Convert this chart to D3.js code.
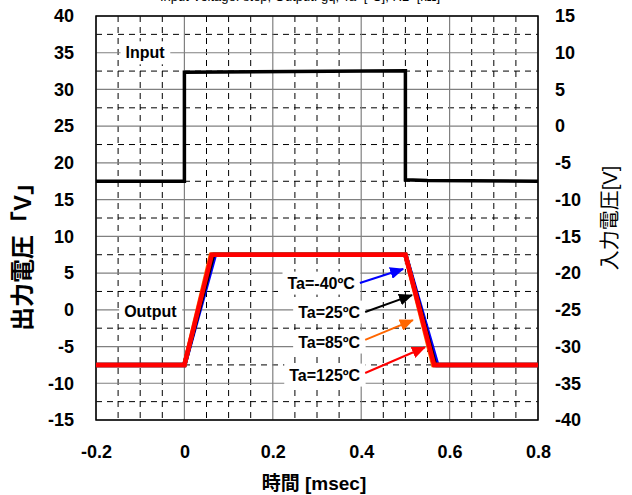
<!DOCTYPE html>
<html>
<head>
<meta charset="utf-8">
<script src="https://cdn.jsdelivr.net/npm/d3@7"></script>
<style>
  body { margin: 0; background: #fff; }
  svg { display: block; font-family: "Liberation Sans", Arial, "Noto Sans CJK JP", sans-serif; }
</style>
</head>
<body>
<svg id="chart" width="632" height="495"></svg>
<script>
"use strict";

// axis ticks
const timeTicks = [-0.2, 0, 0.2, 0.4, 0.6, 0.8];
const outTicks = [-15, -10, -5, 0, 5, 10, 15, 20, 25, 30, 35, 40];
const inTicks = [-40, -35, -30, -25, -20, -15, -10, -5, 0, 5, 10, 15];

// input step (right axis)
const inputTime = [-0.2, 0, 0, 0.5, 0.5, 0.55, 0.8];
const inputVolt = [-7.5, -7.5, 7.35, 7.55, -7.3, -7.4, -7.5];

// output for each temperature (left axis)
const tempLabels = ["Ta=-40ºC", "Ta=25ºC", "Ta=85ºC", "Ta=125ºC"];
const tempColors = ["#0000ff", "#000000", "#ff6600", "#ff0000"];
const outTime = [
  [-0.2, 0, 0.069, 0.5, 0.572, 0.8],
  [-0.2, 0, 0.065, 0.5, 0.567, 0.8],
  [-0.2, 0, 0.060, 0.5, 0.563, 0.8],
  [-0.2, 0, 0.062, 0.5, 0.565, 0.8]
];
const outVolt = [-7.5, -7.5, 7.5, 7.5, -7.5, -7.5];

// arrow tail / tip in data units (time, output V)
const arrowTail = [[0.397, 3.65], [0.409, -0.3], [0.409, -4.1], [0.409, -8.6]];
const arrowTip = [[0.495, 5.55], [0.515, 2.0], [0.517, -1.4], [0.544, -5.1]];

const svg = d3.select("#chart");
const m = { left: 96, right: 538, top: 16, bottom: 420 };

const x = d3.scaleLinear().domain([-0.2, 0.8]).range([m.left, m.right]);
const yL = d3.scaleLinear().domain([-15, 40]).range([m.bottom, m.top]);
const yR = d3.scaleLinear().domain([-40, 15]).range([m.bottom, m.top]);

// title, mostly above the top edge (as in the source image)
svg.append("text")
  .attr("x", 300).attr("y", 1)
  .attr("text-anchor", "middle")
  .style("font-size", "13px")
  .text("Input Voltage: step, Output: gq, Ta=[ºC], RL=[kΩ]");

let grid = svg.append("g");

// minor grid (dashed)
let minorX = d3.range(-0.2, 0.8, 0.05).filter((v) => Math.abs(Math.round(v * 5) - v * 5) > 0.01);
grid.selectAll(".vminor").data(minorX)
  .enter().append("line")
  .attr("x1", (d) => x(d)).attr("x2", (d) => x(d))
  .attr("y1", m.top).attr("y2", m.bottom)
  .attr("stroke", "#000").attr("stroke-width", 1)
  .attr("stroke-dasharray", "6,5");

let minorY = outTicks.slice(0, -1).map((v) => v + 2.5);
grid.selectAll(".hminor").data(minorY)
  .enter().append("line")
  .attr("x1", m.left).attr("x2", m.right)
  .attr("y1", (d) => yL(d)).attr("y2", (d) => yL(d))
  .attr("stroke", "#000").attr("stroke-width", 1)
  .attr("stroke-dasharray", "6,5");

// major grid (solid grey)
grid.selectAll(".vmajor").data(timeTicks)
  .enter().append("line")
  .attr("x1", (d) => x(d)).attr("x2", (d) => x(d))
  .attr("y1", m.top).attr("y2", m.bottom)
  .attr("stroke", "#808080").attr("stroke-width", 1.2);

grid.selectAll(".hmajor").data(outTicks)
  .enter().append("line")
  .attr("x1", m.left).attr("x2", m.right)
  .attr("y1", (d) => yL(d)).attr("y2", (d) => yL(d))
  .attr("stroke", "#808080").attr("stroke-width", 1.2);

// plot frame
svg.append("rect")
  .attr("x", m.left).attr("y", m.top)
  .attr("width", m.right - m.left).attr("height", m.bottom - m.top)
  .attr("fill", "none").attr("stroke", "#000").attr("stroke-width", 1.5);

// axes (plain hyphen for minus, like the original)
let fmt = (d) => String(+(+d).toFixed(1));
let axL = svg.append("g").attr("transform", `translate(${m.left - 22},0)`)
  .call(d3.axisLeft(yL).tickValues(outTicks).tickSize(0).tickPadding(0).tickFormat(fmt));
let axR = svg.append("g").attr("transform", `translate(${m.right + 17},0)`)
  .call(d3.axisRight(yR).tickValues(inTicks).tickSize(0).tickPadding(0).tickFormat(fmt));
let axB = svg.append("g").attr("transform", `translate(0,${m.bottom + 25})`)
  .call(d3.axisBottom(x).tickValues(timeTicks).tickSize(0).tickPadding(0).tickFormat(fmt));

[axL, axR, axB].forEach((ax) => {
  ax.select(".domain").remove();
  ax.selectAll("text")
    .style("font-family", "'Liberation Sans', Arial, sans-serif")
    .style("font-size", "18px").style("font-weight", "bold").attr("fill", "#000");
});
axB.selectAll("text").attr("dy", "0.71em");

// axis titles
svg.append("text")
  .attr("transform", "translate(23,251) rotate(-90)")
  .attr("text-anchor", "middle").attr("dy", "0.35em")
  .style("font-size", "24px").style("font-weight", "bold")
  .text("出力電圧「V」");

svg.append("text")
  .attr("transform", "translate(610,218) rotate(-90)")
  .attr("text-anchor", "middle").attr("dy", "0.35em")
  .style("font-size", "20px")
  .text("入力電圧[V]");

svg.append("text")
  .attr("x", 314).attr("y", 483)
  .attr("text-anchor", "middle").attr("dy", "0.35em")
  .style("font-size", "19px").style("font-weight", "bold")
  .text("時間 [msec]");

// labels with white boxes
function boxedLabel(px, py, anchor, txt) {
  let g = svg.append("g");
  let t = g.append("text")
    .attr("x", px).attr("y", py)
    .attr("text-anchor", anchor).attr("dy", "0.35em")
    .style("font-size", "16px").style("font-weight", "bold")
    .text(txt);
  let b = t.node().getBBox();
  g.insert("rect", "text")
    .attr("x", b.x - 5).attr("y", b.y - 3)
    .attr("width", b.width + 10).attr("height", b.height + 6)
    .attr("fill", "#fff");
}

boxedLabel(x(-0.089), yL(35), "middle", "Input");
boxedLabel(x(-0.077), yL(-0.2), "middle", "Output");

// input line
let lineR = d3.line().x((d) => x(d[0])).y((d) => yR(d[1]));
svg.append("path")
  .datum(inputTime.map((t, i) => [t, inputVolt[i]]))
  .attr("d", lineR)
  .attr("fill", "none").attr("stroke", "#000").attr("stroke-width", 3.5);

// output lines
let lineL = d3.line().x((d) => x(d[0])).y((d) => yL(d[1]));
tempLabels.forEach((lbl, k) => {
  svg.append("path")
    .datum(outTime[k].map((t, i) => [t, outVolt[i]]))
    .attr("d", lineL)
    .attr("fill", "none").attr("stroke", tempColors[k])
    .attr("stroke-width", 4.5).attr("stroke-linejoin", "miter");
});

// arrows + temperature labels
let defs = svg.append("defs");
tempColors.forEach((c, k) => {
  defs.append("marker")
    .attr("id", `arr${k}`)
    .attr("markerUnits", "userSpaceOnUse")
    .attr("markerWidth", 14).attr("markerHeight", 12)
    .attr("refX", 13).attr("refY", 6)
    .attr("orient", "auto")
    .append("path").attr("d", "M0,0L14,6L0,12Z").attr("fill", c);
});

tempLabels.forEach((lbl, k) => {
  let tx = x(arrowTail[k][0]), ty = yL(arrowTail[k][1]);
  boxedLabel(tx - 5, ty + (k >= 2 ? 2 : 0), "end", lbl);
  svg.append("line")
    .attr("x1", tx).attr("y1", ty)
    .attr("x2", x(arrowTip[k][0])).attr("y2", yL(arrowTip[k][1]))
    .attr("stroke", tempColors[k]).attr("stroke-width", 2)
    .attr("marker-end", `url(#arr${k})`);
});
</script>
</body>
</html>
